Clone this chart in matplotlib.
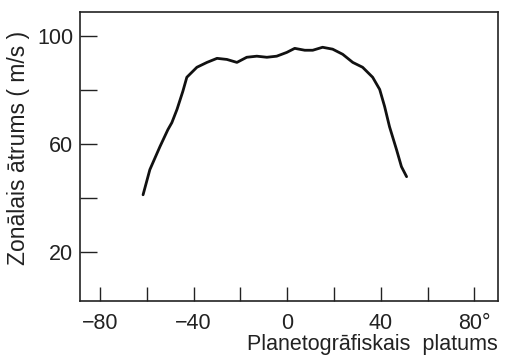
import matplotlib.pyplot as plt

# dati nolasīti no attēla
platums = [-61.6, -58.7, -54.4, -51, -49.3, -47.1, -44.6, -42.9, -38.6, -34.3,
           -30, -25.8, -21.5, -17.3, -13, -8.7, -4.5, -0.2, 3.2, 7.5, 10.9, 15.1,
           19.4, 23.7, 28, 32.2, 36.5, 39.5, 41.6, 43.7, 46.7, 48.8, 51]
atrums = [41.3, 50.6, 59.1, 65.4, 68, 72.9, 79.6, 84.8, 88.5, 90.3,
          91.8, 91.4, 90.3, 92.2, 92.6, 92.2, 92.6, 94, 95.5, 94.8, 94.8, 95.9,
          95.2, 93.3, 90.3, 88.5, 84.8, 80.3, 74, 66.5, 58, 51.7, 48]

x_ticks = [-80, -60, -40, -20, 0, 20, 40, 60, 80]
x_labels = ['\u221280', '', '\u221240', '', '0', '', '40', '', '80\u00b0']
y_ticks = [20, 40, 60, 80, 100]
y_labels = ['20', '', '60', '', '100']

plt.rcParams['font.family'] = ['Liberation Sans', 'DejaVu Sans']

fig = plt.figure(figsize=(5.07, 3.6), dpi=100)
ax = fig.add_axes([0.158, 0.164, 0.824, 0.803])

ax.plot(platums, atrums, color='#111111', linewidth=2.0,
        solid_joinstyle='round', solid_capstyle='round')

ax.set_xlim(-88.5, 90)
ax.set_ylim(2, 109)
ax.set_xticks(x_ticks)
ax.set_xticklabels(x_labels)
ax.set_yticks(y_ticks)
ax.set_yticklabels(y_labels)

ax.tick_params(axis='x', direction='in', length=10, width=1, pad=9,
               labelsize=15.5, colors='#222222')
ax.tick_params(axis='y', direction='in', length=12, width=1, pad=5,
               labelsize=15.5, colors='#222222')
for s in ax.spines.values():
    s.set_linewidth(1.2)
    s.set_color('#222222')

fig.text(0.982, 0.015, 'Planetogrāfiskais  platums', ha='right', va='bottom',
         fontsize=15.5, color='#222222')
fig.text(0.036, 0.59, 'Zonālais ātrums ( m/s )', rotation=90, ha='center',
         va='center', fontsize=16.5, color='#222222')

fig.savefig('out.png', dpi=100)
